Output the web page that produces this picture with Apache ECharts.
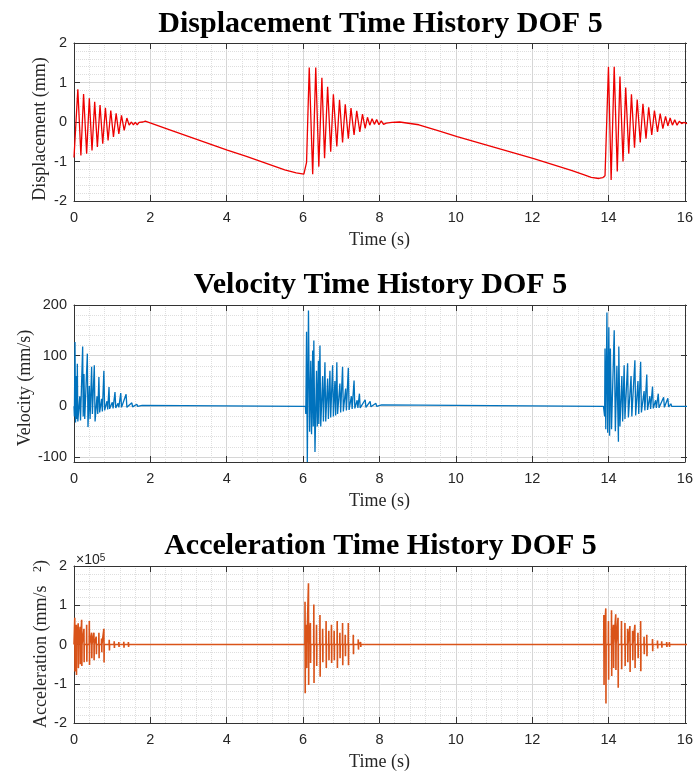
<!DOCTYPE html>
<html><head><meta charset="utf-8">
<script src="https://cdn.jsdelivr.net/npm/echarts@6.0.0/dist/echarts.min.js"></script>
<style>html,body{margin:0;padding:0;background:#fff}#c{width:696px;height:773px}</style>
</head><body><div id="c"></div><script>
// ---------- Data ----------
const xTicks = [0, 2, 4, 6, 8, 10, 12, 14, 16];
const dispTicks = [-2, -1, 0, 1, 2];
const velTicks = [-100, 0, 100, 200];
const accTicks = [-2, -1, 0, 1, 2]; // x10^5

// Displacement (mm): [time s, value]
const dispBurst1 = [[0,-0.9],[0.1,0.83],[0.18,-0.85],[0.25,0.71],[0.33,-0.8],[0.4,0.6],[0.47,-0.72],[0.54,0.51],[0.61,-0.63],[0.68,0.43],[0.75,-0.55],[0.82,0.36],[0.89,-0.47],[0.96,0.29],[1.03,-0.38],[1.1,0.22],[1.17,-0.3],[1.24,0.17],[1.31,-0.21],[1.38,0.1],[1.44,-0.08],[1.5,0.0],[1.55,-0.07],[1.6,-0.01],[1.65,-0.07],[1.7,-0.01],[1.75,-0.06],[1.8,0.0],[1.86,0.02]];
const dispDrift1 = [[1.95,-0.01],[2.0,-0.03],[2.5,-0.2],[3.0,-0.37],[3.5,-0.54],[4.0,-0.71],[4.5,-0.87],[5.0,-1.04],[5.5,-1.21],[5.8,-1.29],[6.0,-1.32],[6.05,-1.32]];
const dispBurst2 = [[6.07,-1.02],[6.09,-1.05],[6.14,1.38],[6.23,-1.32],[6.31,1.38],[6.39,-1.13],[6.47,1.12],[6.54,-0.92],[6.62,0.89],[6.7,-0.75],[6.77,0.7],[6.86,-0.62],[6.93,0.56],[7.01,-0.52],[7.08,0.45],[7.16,-0.42],[7.23,0.35],[7.31,-0.33],[7.38,0.28],[7.46,-0.25],[7.53,0.2],[7.6,-0.16],[7.66,0.12],[7.72,-0.08],[7.78,0.08],[7.84,-0.06],[7.9,0.06],[7.96,-0.07],[8.02,0.03],[8.08,-0.06],[8.15,-0.03],[8.3,-0.01],[8.5,0.0]];
const dispDrift2 = [[9.0,-0.07],[9.5,-0.22],[10.0,-0.37],[10.5,-0.51],[11.0,-0.65],[11.5,-0.79],[12.0,-0.93],[12.5,-1.08],[13.0,-1.23],[13.3,-1.33],[13.5,-1.4],[13.7,-1.43],[13.8,-1.41],[13.86,-1.36]];
const dispBurst3 = [[13.88,-0.75],[13.95,1.4],[14.02,-1.47],[14.1,1.4],[14.18,-1.25],[14.25,1.15],[14.33,-1.0],[14.4,0.87],[14.48,-0.8],[14.55,0.7],[14.63,-0.65],[14.7,0.57],[14.78,-0.52],[14.85,0.46],[14.93,-0.42],[15.0,0.37],[15.08,-0.33],[15.15,0.29],[15.23,-0.25],[15.3,0.21],[15.37,-0.17],[15.44,0.14],[15.5,-0.1],[15.56,0.1],[15.62,-0.08],[15.68,0.06],[15.74,-0.08],[15.8,0.02],[15.86,-0.04],[15.92,-0.01],[16.0,-0.04]];

// Velocity (mm/s): [time s, value]
const velBurst1 = [[0,0],[0.01,-20],[0.026,127],[0.04,-32],[0.06,60],[0.075,-25],[0.087,84],[0.1,-30],[0.15,20],[0.17,-28],[0.226,118],[0.24,-20],[0.26,64],[0.28,-25],[0.348,104],[0.365,-41],[0.4,40],[0.42,-25],[0.46,78],[0.48,-15],[0.53,81],[0.55,-30],[0.6,20],[0.62,-15],[0.65,58],[0.67,-12],[0.72,15],[0.74,-10],[0.78,70],[0.8,-8],[0.86,10],[0.88,-6],[0.914,38],[0.93,-5],[1.0,8],[1.02,-4],[1.07,28],[1.09,-3],[1.15,6],[1.17,-2],[1.22,26],[1.24,-2],[1.36,24],[1.38,-2],[1.51,7],[1.53,-1],[1.64,4],[1.66,0],[1.78,2],[1.8,0]];
const velBurst2 = [[6.04,0],[6.05,-15],[6.07,147],[6.09,-110],[6.12,189],[6.15,-50],[6.18,90],[6.2,-55],[6.23,110],[6.245,-40],[6.26,130],[6.29,-90],[6.33,70],[6.35,-40],[6.38,90],[6.39,-35],[6.42,120],[6.44,-40],[6.49,60],[6.51,-30],[6.55,87],[6.57,-30],[6.62,55],[6.64,-25],[6.68,70],[6.7,-22],[6.75,81],[6.77,-20],[6.81,50],[6.83,-18],[6.86,87],[6.88,-15],[6.94,45],[6.96,-12],[7.01,78],[7.03,-10],[7.09,35],[7.11,-8],[7.16,76],[7.18,-7],[7.24,20],[7.26,-5],[7.31,51],[7.33,-4],[7.39,12],[7.41,-3],[7.45,25],[7.47,-3],[7.6,13],[7.62,-2],[7.73,10],[7.75,-1],[7.88,6],[7.9,0],[8.03,3],[8.05,0]];
const velBurst3 = [[13.82,0],[13.85,-20],[13.86,114],[13.88,-45],[13.91,185],[13.93,-52],[13.96,156],[13.98,-58],[14.0,114],[14.03,-45],[14.1,150],[14.13,-49],[14.17,80],[14.21,-70],[14.22,118],[14.25,-40],[14.3,60],[14.32,-30],[14.36,81],[14.38,-25],[14.45,85],[14.47,-22],[14.54,60],[14.56,-20],[14.64,91],[14.66,-18],[14.72,50],[14.74,-15],[14.79,88],[14.81,-12],[14.88,30],[14.9,-8],[14.95,63],[14.97,-7],[15.03,20],[15.05,-5],[15.1,39],[15.12,-4],[15.18,12],[15.2,-3],[15.25,25],[15.27,-3],[15.39,18],[15.41,-2],[15.5,16],[15.52,-1],[15.58,5],[15.6,0],[16,0]];

// Acceleration (x10^5 mm/s^2): impact bars [time s, top, bottom]
const accBars1 = [[0.02,0.68,-0.69],[0.06,0.5,-0.78],[0.11,0.54,-0.6],[0.16,0.45,-0.5],[0.2,0.63,-0.55],[0.26,0.4,-0.45],[0.33,0.5,-0.44],[0.4,0.6,-0.52],[0.46,0.3,-0.35],[0.52,0.3,-0.4],[0.58,0.2,-0.25],[0.65,0.3,-0.35],[0.72,0.15,-0.2],[0.78,0.4,-0.46],[0.92,0.12,-0.15],[1.05,0.08,-0.09],[1.17,0.06,-0.06],[1.3,0.07,-0.08],[1.42,0.06,-0.06],[1.52,0.04,-0.05]];
const accBars2 = [[6.03,1.09,-1.24],[6.07,0.5,-0.6],[6.12,1.56,-1.03],[6.17,0.55,-0.47],[6.26,1.02,-0.98],[6.33,0.5,-0.55],[6.42,0.75,-0.82],[6.49,0.4,-0.45],[6.58,0.6,-0.6],[6.65,0.35,-0.4],[6.72,0.5,-0.47],[6.79,0.35,-0.4],[6.87,0.6,-0.6],[6.94,0.3,-0.35],[7.01,0.55,-0.53],[7.08,0.25,-0.3],[7.16,0.55,-0.53],[7.29,0.25,-0.25],[7.42,0.13,-0.13],[7.48,0.06,-0.06],[7.72,0.05,-0.05]];
const accBars3 = [[13.83,0.75,-1.03],[13.88,0.92,-1.5],[13.95,0.6,-0.9],[14.03,0.87,-0.8],[14.08,0.5,-0.6],[14.14,0.77,-0.65],[14.2,0.68,-1.1],[14.29,0.6,-0.63],[14.38,0.55,-0.55],[14.45,0.4,-0.45],[14.51,0.47,-0.7],[14.58,0.35,-0.4],[14.64,0.5,-0.6],[14.72,0.3,-0.35],[14.79,0.6,-0.68],[14.88,0.2,-0.25],[14.95,0.25,-0.3],[15.1,0.14,-0.17],[15.23,0.1,-0.1],[15.34,0.08,-0.08],[15.47,0.06,-0.06],[15.54,0.06,-0.06]];

const titles = ['Displacement Time History DOF 5', 'Velocity Time History DOF 5', 'Acceleration Time History DOF 5'];

// ---------- Build ----------
const dispData = [].concat(dispBurst1, dispDrift1, dispBurst2, dispDrift2, dispBurst3);
const velData = [].concat(velBurst1, velBurst2, velBurst3);
function barsToLine(bars) {
  const out = [];
  bars.forEach(b => { out.push([b[0] - 0.004, 0], [b[0], b[1]], [b[0] + 0.005, b[2]], [b[0] + 0.009, 0]); });
  return out;
}
const accData = [[0, 0]].concat(barsToLine(accBars1), barsToLine(accBars2), barsToLine(accBars3), [[16, 0]]);

const AX = '#333333', LBL = '#262626', GRIDC = '#d6d6d6', MINORC = '#dedede';
const PL = 74, PW = 613;
const SANS = '"Liberation Sans", Arial, sans-serif';
const SERIF = '"Liberation Serif", "Times New Roman", serif';

const plots = [
  {ft: 43, fh: 158, dt: 43, dh: 158, ticks: dispTicks, color: '#ee0000', data: dispData, lw: 1.3},
  {ft: 305, fh: 157, dt: 305, dh: 152, ticks: velTicks, color: '#0072bd', data: velData, lw: 1.3},
  {ft: 566, fh: 157, dt: 566, dh: 157, ticks: accTicks, color: '#d95319', data: accData, lw: 1.6}
];

const grid = [], xAxis = [], yAxis = [], series = [];
plots.forEach((p, i) => {
  const ymin = p.ticks[0], ymax = p.ticks[p.ticks.length - 1], yint = p.ticks[1] - p.ticks[0];
  const xmin = xTicks[0], xmax = xTicks[xTicks.length - 1], xint = xTicks[1] - xTicks[0];
  grid.push({left: PL, width: PW, top: p.ft, height: p.fh});
  grid.push({left: PL, width: PW, top: p.dt, height: p.dh});
  const fg = 2 * i, dg = 2 * i + 1;
  xAxis.push({type: 'value', gridIndex: fg, position: 'bottom', min: xmin, max: xmax, interval: xint,
    axisLine: {show: true, onZero: false, lineStyle: {color: AX, width: 1}},
    axisTick: {show: true, inside: true, length: 6, lineStyle: {color: AX}},
    axisLabel: {show: true, margin: 9, color: LBL, fontSize: 14.5, fontFamily: SANS},
    splitLine: {show: true, lineStyle: {color: GRIDC, width: 1}},
    minorTick: {show: false, splitNumber: 5},
    minorSplitLine: {show: true, lineStyle: {color: MINORC, width: 1, type: 'dotted'}},
    name: 'Time (s)', nameLocation: 'middle', nameGap: 30,
    nameTextStyle: {color: LBL, fontSize: 18, fontFamily: SERIF}});
  xAxis.push({type: 'value', gridIndex: fg, position: 'top', min: xmin, max: xmax, interval: xint,
    axisLine: {show: true, onZero: false, lineStyle: {color: AX, width: 1}},
    axisTick: {show: true, inside: true, length: 6, lineStyle: {color: AX}},
    axisLabel: {show: false}, splitLine: {show: false}});
  xAxis.push({type: 'value', gridIndex: dg, min: xmin, max: xmax, interval: xint, show: false});
  yAxis.push({type: 'value', gridIndex: fg, position: 'left', min: 0, max: 1,
    axisLine: {show: true, onZero: false, lineStyle: {color: AX, width: 1}},
    axisTick: {show: false}, axisLabel: {show: false}, splitLine: {show: false}});
  yAxis.push({type: 'value', gridIndex: fg, position: 'right', min: 0, max: 1,
    axisLine: {show: true, onZero: false, lineStyle: {color: AX, width: 1}},
    axisTick: {show: false}, axisLabel: {show: false}, splitLine: {show: false}});
  yAxis.push({type: 'value', gridIndex: dg, position: 'left', min: ymin, max: ymax, interval: yint,
    axisLine: {show: false},
    axisTick: {show: true, inside: true, length: 6, lineStyle: {color: AX}},
    axisLabel: {show: true, margin: 7, color: LBL, fontSize: 14.5, fontFamily: SANS},
    splitLine: {show: true, lineStyle: {color: GRIDC, width: 1}},
    minorTick: {show: false, splitNumber: 5},
    minorSplitLine: {show: true, lineStyle: {color: MINORC, width: 1, type: 'dotted'}}});
  yAxis.push({type: 'value', gridIndex: dg, position: 'right', min: ymin, max: ymax, interval: yint,
    axisLine: {show: false},
    axisTick: {show: true, inside: true, length: 6, lineStyle: {color: AX}},
    axisLabel: {show: false}, splitLine: {show: false}});
  series.push({type: 'line', xAxisIndex: 3 * i + 2, yAxisIndex: 4 * i + 2, data: p.data,
    showSymbol: false, symbol: 'none', clip: false, smooth: false,
    lineStyle: {color: p.color, width: p.lw}, z: 3});
});

const graphic = [
  {type: 'text', x: 380.5, y: 24.3, style: {text: titles[0], font: 'bold 30px ' + SERIF, fill: '#000', align: 'center', verticalAlign: 'middle'}},
  {type: 'text', x: 380.5, y: 285.5, style: {text: titles[1], font: 'bold 30px ' + SERIF, fill: '#000', align: 'center', verticalAlign: 'middle'}},
  {type: 'text', x: 380.5, y: 546.7, style: {text: titles[2], font: 'bold 30px ' + SERIF, fill: '#000', align: 'center', verticalAlign: 'middle'}},
  {type: 'text', x: 40, y: 129, rotation: Math.PI / 2, style: {text: 'Displacement (mm)', font: '18px ' + SERIF, fill: LBL, align: 'center', verticalAlign: 'middle'}},
  {type: 'text', x: 25, y: 388, rotation: Math.PI / 2, style: {text: 'Velocity (mm/s)', font: '18px ' + SERIF, fill: LBL, align: 'center', verticalAlign: 'middle'}},
  {type: 'text', x: 41, y: 728, rotation: Math.PI / 2, style: {text: '{m|Acceleration (mm/s}{g|   }{s|2}{m|)}', fill: LBL, align: 'left', verticalAlign: 'middle',
    rich: {m: {fontSize: 18, fontFamily: SERIF, fill: LBL}, g: {fontSize: 18, fontFamily: SERIF}, s: {fontSize: 12, fontFamily: SERIF, fill: LBL, verticalAlign: 'top'}}}},
  {type: 'text', x: 76, y: 560, style: {text: '{a|×10}{b|5}', fill: LBL, align: 'left', verticalAlign: 'middle',
    rich: {a: {fontSize: 14, fontFamily: SANS, fill: LBL}, b: {fontSize: 10, fontFamily: SANS, fill: LBL, verticalAlign: 'top'}}}}
];

const chart = echarts.init(document.getElementById('c'), null, {renderer: 'canvas'});
chart.setOption({animation: false, backgroundColor: '#fff', grid, xAxis, yAxis, series, graphic});
</script></body></html>
